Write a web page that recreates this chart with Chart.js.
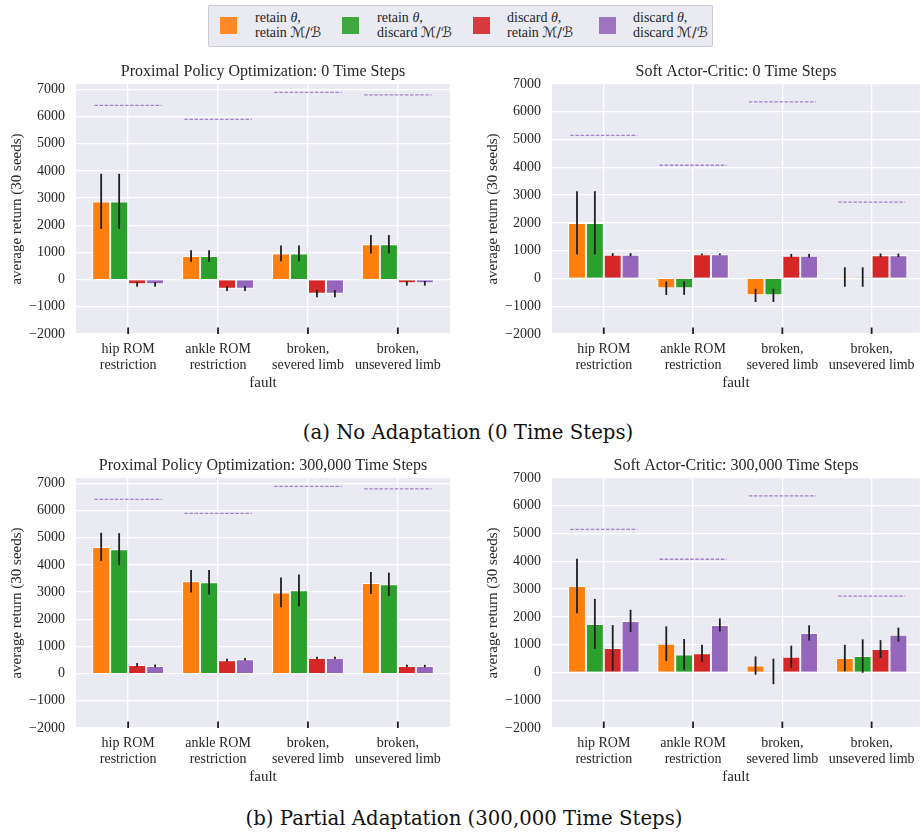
<!DOCTYPE html>
<html>
<head>
<meta charset="utf-8">
<script src="https://cdn.jsdelivr.net/npm/chart.js@4/dist/chart.umd.min.js"></script>
<style>
  html, body { margin: 0; padding: 0; background: #ffffff; overflow: hidden; }
  #page { position: relative; width: 923px; height: 837px; font-family: "Liberation Serif", serif; color: #262626; }
  canvas { position: absolute; }
  .legend { position: absolute; left: 208px; top: 5px; width: 503px; height: 40px;
            background: #eaeaf2; border: 1px solid #cbcbd2; border-radius: 2px; }
  .sw { position: absolute; top: 11px; width: 17px; height: 17px; opacity: 0.9; }
  .lt { position: absolute; top: 4px; font-size: 14px; line-height: 15px; white-space: nowrap; color: #262626; }
  .cal { font-family: "DejaVu Sans", sans-serif; font-style: normal; font-size: 14px; }
  .cap { position: absolute; transform: translate(-50%, -50%); font-family: "DejaVu Serif", serif;
         font-size: 19.7px; white-space: nowrap; color: #111111; }
</style>
</head>
<body>
<div id="page">
  <div class="legend" id="legend"></div>
  <canvas id="ppo0" width="460" height="340" style="left:0px; top:60px;"></canvas>
  <canvas id="sac0" width="447" height="340" style="left:476px; top:60px;"></canvas>
  <div class="cap" style="left:468px; top:432px;">(a) No Adaptation (0 Time Steps)</div>
  <canvas id="ppo300" width="460" height="340" style="left:0px; top:454px;"></canvas>
  <canvas id="sac300" width="447" height="340" style="left:476px; top:454px;"></canvas>
  <div class="cap" style="left:464px; top:818px;">(b) Partial Adaptation (300,000 Time Steps)</div>
</div>
<script>
// Fault categories along the x axis (one entry per tick, split over two lines)
const faults = [
  ['hip ROM', 'restriction'],
  ['ankle ROM', 'restriction'],
  ['broken,', 'severed limb'],
  ['broken,', 'unsevered limb']
];

// Series: what is kept after the fault (policy parameters θ, replay buffer / memory ℳ/ℬ)
const seriesLines = [
  ['retain <i>θ</i>,', 'retain <span class="cal">ℳ/ℬ</span>'],
  ['retain <i>θ</i>,', 'discard <span class="cal">ℳ/ℬ</span>'],
  ['discard <i>θ</i>,', 'retain <span class="cal">ℳ/ℬ</span>'],
  ['discard <i>θ</i>,', 'discard <span class="cal">ℳ/ℬ</span>']
];
const seriesNames = [
  'retain θ, retain ℳ/ℬ',
  'retain θ, discard ℳ/ℬ',
  'discard θ, retain ℳ/ℬ',
  'discard θ, discard ℳ/ℬ'
];
const seriesColors = ['#ff7f0e', '#2ca02c', '#d62728', '#9467bd'];

// Y-axis ticks
const yTicks = [-2000, -1000, 0, 1000, 2000, 3000, 4000, 5000, 6000, 7000];

// Pre-fault performance of each algorithm (dashed reference lines)
const ppoBaseline = [6410, 5900, 6890, 6800];
const sacBaseline = [5150, 4075, 6360, 2745];

// PPO, 0 time steps: mean and error per series (rows) and fault (columns)
const ppo0Mean = [
  [2880, 870, 965, 1300],
  [2880, 870, 965, 1300],
  [-172, -331, -515, -135],
  [-172, -331, -515, -135]
];
const ppo0Err = [
  [1015, 215, 290, 340],
  [1015, 215, 290, 340],
  [85, 86, 135, 85],
  [85, 86, 135, 85]
];

// SAC, 0 time steps
const sac0Mean = [
  [2000, -355, -608, 52],
  [2000, -350, -608, 50],
  [856, 868, 820, 832],
  [856, 868, 820, 832]
];
const sac0Err = [
  [1140, 240, 240, 350],
  [1140, 240, 240, 350],
  [55, 30, 65, 65],
  [55, 30, 65, 65]
];

// PPO, 300,000 time steps
const ppo300Mean = [
  [4665, 3400, 2990, 3335],
  [4580, 3360, 3065, 3290],
  [320, 490, 580, 285],
  [285, 530, 580, 280]
];
const ppo300Err = [
  [520, 410, 550, 405],
  [590, 450, 585, 430],
  [70, 55, 40, 45],
  [50, 50, 40, 45]
];

// SAC, 300,000 time steps
const sac300Mean = [
  [3110, 1035, 247, 518],
  [1747, 650, 36, 590],
  [880, 687, 566, 843],
  [1855, 1711, 1422, 1361]
];
const sac300Err = [
  [980, 625, 330, 476],
  [900, 555, 458, 602],
  [825, 310, 398, 320],
  [400, 235, 277, 253]
];

const ink = '#262626';
const serif = '"Liberation Serif", "Times New Roman", serif';

// Shared legend above the panels
(function buildLegend() {
  const box = document.getElementById('legend');
  const swatchX = [11, 133, 264, 390];
  const textX = [46, 168, 298, 424];
  seriesLines.forEach((lines, s) => {
    const sw = document.createElement('div');
    sw.className = 'sw';
    sw.style.left = swatchX[s] + 'px';
    sw.style.background = seriesColors[s];
    box.appendChild(sw);
    const t = document.createElement('div');
    t.className = 'lt';
    t.style.left = textX[s] + 'px';
    t.innerHTML = lines.join('<br>');
    box.appendChild(t);
  });
})();

// Axes face colour
const panelBackground = {
  id: 'panelBackground',
  beforeDraw(chart) {
    const { ctx, chartArea: a } = chart;
    ctx.save();
    ctx.fillStyle = '#eaeaf2';
    ctx.fillRect(a.left, a.top, a.right - a.left, a.bottom - a.top);
    ctx.restore();
  }
};

// Error bars on each bar, plus short marks at each fault position on the bottom edge
const errorBars = {
  id: 'errorBars',
  afterDatasetsDraw(chart) {
    const { ctx, scales } = chart;
    const y = scales.y, x = scales.x;
    ctx.save();
    ctx.strokeStyle = '#1f1f1f';
    ctx.lineWidth = 1.8;
    chart.data.datasets.forEach((ds, d) => {
      if (!ds.errors) return;
      const meta = chart.getDatasetMeta(d);
      meta.data.forEach((bar, i) => {
        const v = ds.data[i].y, e = ds.errors[i];
        ctx.beginPath();
        ctx.moveTo(bar.x, y.getPixelForValue(v - e));
        ctx.lineTo(bar.x, y.getPixelForValue(v + e));
        ctx.stroke();
      });
    });
    const bottom = chart.chartArea.bottom;
    x.ticks.forEach(t => {
      const px = x.getPixelForValue(t.value);
      ctx.beginPath();
      ctx.moveTo(px, bottom);
      ctx.lineTo(px, bottom - 6.5);
      ctx.stroke();
    });
    ctx.restore();
  }
};

function buildPanel(canvasId, title, means, errs, baseline, yMax, xMax, rightPad) {
  const datasets = means.map((m, s) => ({
    type: 'bar',
    label: seriesNames[s],
    data: m.map((v, i) => ({ x: i, y: v })),
    errors: errs[s],
    backgroundColor: seriesColors[s],
    borderColor: '#ffffff',
    borderWidth: 1,
    borderSkipped: 'start',
    categoryPercentage: 0.8,
    barPercentage: 1.0,
    order: 2
  }));
  const ref = [];
  baseline.forEach((v, i) => {
    ref.push({ x: i - 0.375, y: v }, { x: i + 0.375, y: v }, { x: i + 0.5, y: null });
  });
  datasets.push({
    type: 'line',
    label: 'pre-fault',
    data: ref,
    borderColor: 'rgba(148, 103, 189, 0.8)',
    borderWidth: 1.3,
    borderDash: [3.5, 1.6],
    pointRadius: 0,
    spanGaps: false,
    fill: false,
    order: 1
  });

  new Chart(document.getElementById(canvasId), {
    type: 'bar',
    data: { datasets },
    plugins: [panelBackground, errorBars],
    options: {
      responsive: false,
      animation: false,
      devicePixelRatio: 1,
      layout: { padding: { left: 0, right: rightPad, top: 0, bottom: 0 } },
      plugins: {
        legend: { display: false },
        tooltip: { enabled: false },
        title: {
          display: true,
          text: title,
          fullSize: false,
          color: ink,
          font: { family: serif, size: 16, weight: 'normal', lineHeight: 1.2 },
          padding: { top: 2.4, bottom: 2.4 }
        }
      },
      scales: {
        x: {
          type: 'linear',
          min: -0.58,
          max: xMax,
          offset: false,
          afterBuildTicks: s => { s.ticks = faults.map((_, i) => ({ value: i })); },
          afterFit: s => { s.height = 66; },
          grid: { color: '#ffffff', lineWidth: 1.3, drawTicks: false, offset: false },
          border: { display: false },
          ticks: {
            callback: v => faults[v],
            color: ink,
            font: { family: serif, size: 14, lineHeight: 1.1 },
            padding: 8,
            autoSkip: false,
            maxRotation: 0,
            minRotation: 0
          },
          title: {
            display: true,
            text: 'fault',
            color: ink,
            font: { family: serif, size: 15, lineHeight: 1.2 },
            padding: { top: 0, bottom: 8 }
          }
        },
        y: {
          type: 'linear',
          min: -2000,
          max: yMax,
          afterBuildTicks: s => { s.ticks = yTicks.map(v => ({ value: v })); },
          afterFit: s => { s.width = 76; },
          grid: { color: '#ffffff', lineWidth: 1.3, drawTicks: false },
          border: { display: false },
          ticks: {
            callback: v => (v < 0 ? '\u2212' + Math.abs(v) : String(v)),
            color: ink,
            font: { family: serif, size: 14 },
            padding: 11
          },
          title: {
            display: true,
            text: 'average return (30 seeds)',
            color: ink,
            font: { family: serif, size: 15, lineHeight: 1.2 },
            padding: { top: 8, bottom: 0 }
          }
        }
      }
    }
  });
}

buildPanel('ppo0', 'Proximal Policy Optimization: 0 Time Steps', ppo0Mean, ppo0Err, ppoBaseline, 7200, 3.58, 10);
buildPanel('sac0', 'Soft Actor-Critic: 0 Time Steps', sac0Mean, sac0Err, sacBaseline, 7000, 3.54, 0);
buildPanel('ppo300', 'Proximal Policy Optimization: 300,000 Time Steps', ppo300Mean, ppo300Err, ppoBaseline, 7200, 3.58, 10);
buildPanel('sac300', 'Soft Actor-Critic: 300,000 Time Steps', sac300Mean, sac300Err, sacBaseline, 7000, 3.54, 0);
</script>
</body>
</html>
